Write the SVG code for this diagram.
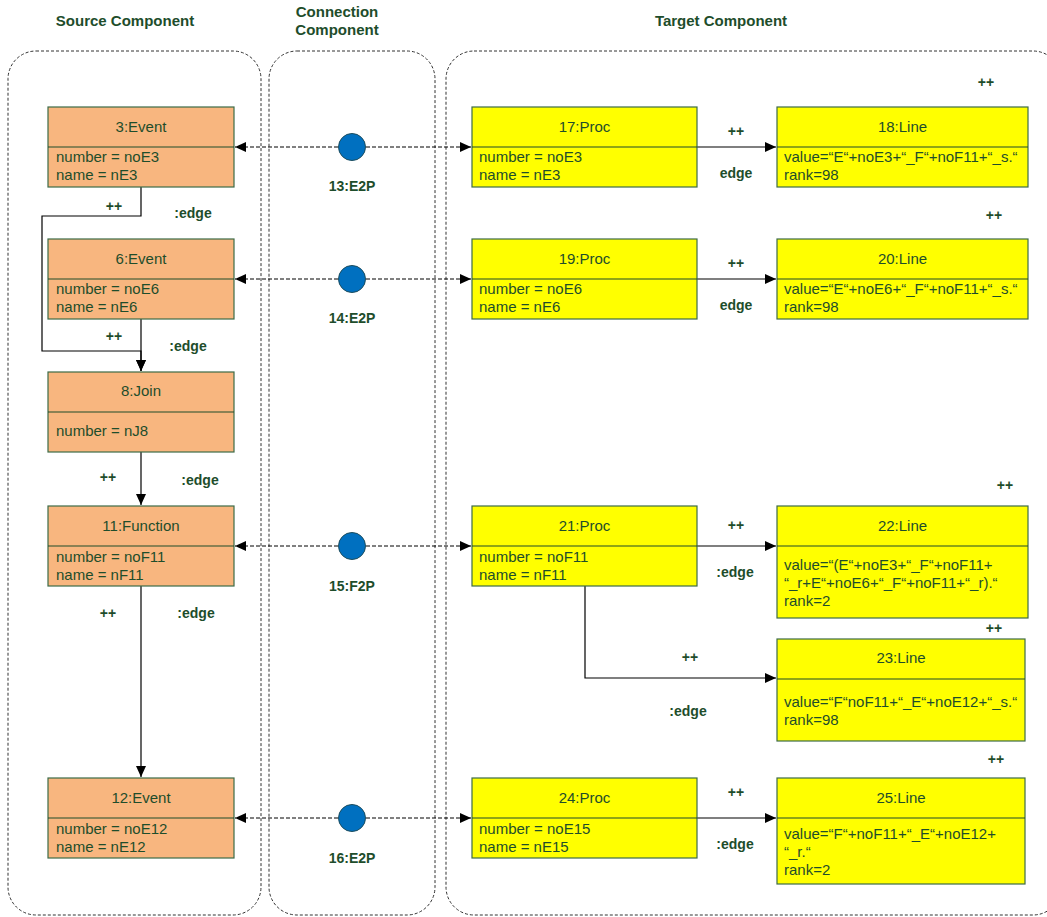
<svg xmlns="http://www.w3.org/2000/svg" width="1047" height="917" viewBox="0 0 1047 917">
<defs>
<marker id="arr" markerUnits="userSpaceOnUse" markerWidth="12" markerHeight="10" refX="11" refY="5" orient="auto"><path d="M0,0 L11,5 L0,10 z" fill="#000"/></marker>
<style>
.cont{fill:none;stroke:#333;stroke-width:1;stroke-dasharray:3,2}
.title{font-family:"Liberation Sans",Arial,sans-serif;font-size:15px;font-weight:bold;fill:#1e4d2b;text-anchor:middle}
.lbl{font-family:"Liberation Sans",Arial,sans-serif;font-size:14px;font-weight:bold;fill:#1e4d2b;text-anchor:middle}
.src{fill:#f8b67f;stroke:#3d6b47;stroke-width:1.2}
.tgt{fill:#ffff00;stroke:#3d6b47;stroke-width:1.2}
.div{stroke:#1e4d2b;stroke-width:1.2}
.hd{font-family:"Liberation Sans",Arial,sans-serif;font-size:15px;fill:#1e4d2b;text-anchor:middle}
.tx{font-family:"Liberation Sans",Arial,sans-serif;font-size:15px;fill:#1e4d2b}
.edge{fill:none;stroke:#000;stroke-width:1.2}
.dash{fill:none;stroke:#000;stroke-width:1;stroke-dasharray:4,2}
.circ{fill:#0070c0;stroke:#1d4d5d;stroke-width:1}
</style>
</defs>
<rect width="1047" height="917" fill="#fff"/>

<g id="containers">
<rect class="cont" x="8" y="51" width="253" height="864" rx="28" ry="28"/>
<rect class="cont" x="269" y="51" width="166" height="864" rx="28" ry="28"/>
<rect class="cont" x="446" y="51" width="615" height="864" rx="28" ry="28"/>
<text class="title" x="125" y="26">Source Component</text>
<text class="title" x="337" y="17">Connection</text>
<text class="title" x="337" y="35">Component</text>
<text class="title" x="721" y="26">Target Component</text>
</g>

<g id="connectors">
<path class="edge" d="M141,187 V216 H42 V351 H141 V371" marker-end="url(#arr)"/>
<path class="edge" d="M141,319 V371" marker-end="url(#arr)"/>
<path class="edge" d="M141,452 V505" marker-end="url(#arr)"/>
<path class="edge" d="M141,586 V777" marker-end="url(#arr)"/>
<path class="edge" d="M697,147 H776" marker-end="url(#arr)"/>
<path class="edge" d="M697,279 H776" marker-end="url(#arr)"/>
<path class="edge" d="M697,546 H776" marker-end="url(#arr)"/>
<path class="edge" d="M585,586 V678 H776" marker-end="url(#arr)"/>
<path class="edge" d="M697,818 H776" marker-end="url(#arr)"/>
<path class="dash" d="M338,147 H235" marker-end="url(#arr)"/>
<path class="dash" d="M366,147 H471" marker-end="url(#arr)"/>
<path class="dash" d="M338,279 H235" marker-end="url(#arr)"/>
<path class="dash" d="M366,279 H471" marker-end="url(#arr)"/>
<path class="dash" d="M338,546 H235" marker-end="url(#arr)"/>
<path class="dash" d="M366,546 H471" marker-end="url(#arr)"/>
<path class="dash" d="M338,818 H235" marker-end="url(#arr)"/>
<path class="dash" d="M366,818 H471" marker-end="url(#arr)"/>
<text class="lbl" x="114" y="211">++</text>
<text class="lbl" x="193" y="218">:edge</text>
<text class="lbl" x="114" y="341">++</text>
<text class="lbl" x="188" y="351">:edge</text>
<text class="lbl" x="108" y="482">++</text>
<text class="lbl" x="200" y="485">:edge</text>
<text class="lbl" x="108" y="618">++</text>
<text class="lbl" x="196" y="618">:edge</text>
<text class="lbl" x="736" y="136">++</text>
<text class="lbl" x="736" y="178">edge</text>
<text class="lbl" x="736" y="268">++</text>
<text class="lbl" x="736" y="310">edge</text>
<text class="lbl" x="736" y="530">++</text>
<text class="lbl" x="735" y="577">:edge</text>
<text class="lbl" x="690" y="662">++</text>
<text class="lbl" x="688" y="716">:edge</text>
<text class="lbl" x="736" y="797">++</text>
<text class="lbl" x="735" y="849">:edge</text>
<text class="lbl" x="986" y="87">++</text>
<text class="lbl" x="994" y="220">++</text>
<text class="lbl" x="1005" y="490">++</text>
<text class="lbl" x="994" y="633">++</text>
<text class="lbl" x="996" y="764">++</text>
</g>

<g id="n3">
<rect class="src" x="48" y="107" width="186" height="80"/>
<line class="div" x1="48" y1="147" x2="234" y2="147"/>
<text class="hd" x="141" y="132">3:Event</text>
<text class="tx" x="56" y="162">number = noE3</text>
<text class="tx" x="56" y="180">name = nE3</text>
</g>
<g id="n6">
<rect class="src" x="48" y="239" width="186" height="80"/>
<line class="div" x1="48" y1="279" x2="234" y2="279"/>
<text class="hd" x="141" y="264">6:Event</text>
<text class="tx" x="56" y="294">number = noE6</text>
<text class="tx" x="56" y="312">name = nE6</text>
</g>
<g id="n8">
<rect class="src" x="48" y="372" width="186" height="80"/>
<line class="div" x1="48" y1="412" x2="234" y2="412"/>
<text class="hd" x="141" y="396">8:Join</text>
<text class="tx" x="56" y="436">number = nJ8</text>
</g>
<g id="n11">
<rect class="src" x="48" y="506" width="186" height="80"/>
<line class="div" x1="48" y1="546" x2="234" y2="546"/>
<text class="hd" x="141" y="531">11:Function</text>
<text class="tx" x="56" y="562">number = noF11</text>
<text class="tx" x="56" y="580">name = nF11</text>
</g>
<g id="n12">
<rect class="src" x="48" y="778" width="186" height="80"/>
<line class="div" x1="48" y1="818" x2="234" y2="818"/>
<text class="hd" x="141" y="803">12:Event</text>
<text class="tx" x="56" y="834">number = noE12</text>
<text class="tx" x="56" y="852">name = nE12</text>
</g>

<g id="n13"><circle class="circ" cx="352" cy="147" r="13.5"/><text class="lbl" x="352" y="191">13:E2P</text></g>
<g id="n14"><circle class="circ" cx="352" cy="279" r="13.5"/><text class="lbl" x="352" y="323">14:E2P</text></g>
<g id="n15"><circle class="circ" cx="352" cy="546" r="13.5"/><text class="lbl" x="352" y="591">15:F2P</text></g>
<g id="n16"><circle class="circ" cx="352" cy="818" r="13.5"/><text class="lbl" x="352" y="863">16:E2P</text></g>

<g id="n17">
<rect class="tgt" x="472" y="107" width="225" height="80"/>
<line class="div" x1="472" y1="147" x2="697" y2="147"/>
<text class="hd" x="584.5" y="132">17:Proc</text>
<text class="tx" x="479" y="162">number = noE3</text>
<text class="tx" x="479" y="180">name = nE3</text>
</g>
<g id="n18">
<rect class="tgt" x="777" y="107" width="251" height="80"/>
<line class="div" x1="777" y1="147" x2="1028" y2="147"/>
<text class="hd" x="902.5" y="132">18:Line</text>
<text class="tx" x="784" y="162">value=“E“+noE3+“_F“+noF11+“_s.“</text>
<text class="tx" x="784" y="180">rank=98</text>
</g>
<g id="n19">
<rect class="tgt" x="472" y="239" width="225" height="80"/>
<line class="div" x1="472" y1="279" x2="697" y2="279"/>
<text class="hd" x="584.5" y="264">19:Proc</text>
<text class="tx" x="479" y="294">number = noE6</text>
<text class="tx" x="479" y="312">name = nE6</text>
</g>
<g id="n20">
<rect class="tgt" x="777" y="239" width="251" height="80"/>
<line class="div" x1="777" y1="279" x2="1028" y2="279"/>
<text class="hd" x="902.5" y="264">20:Line</text>
<text class="tx" x="784" y="294">value=“E“+noE6+“_F“+noF11+“_s.“</text>
<text class="tx" x="784" y="312">rank=98</text>
</g>
<g id="n21">
<rect class="tgt" x="472" y="506" width="225" height="80"/>
<line class="div" x1="472" y1="546" x2="697" y2="546"/>
<text class="hd" x="584.5" y="531">21:Proc</text>
<text class="tx" x="479" y="562">number = noF11</text>
<text class="tx" x="479" y="580">name = nF11</text>
</g>
<g id="n22">
<rect class="tgt" x="777" y="506" width="251" height="112"/>
<line class="div" x1="777" y1="546" x2="1028" y2="546"/>
<text class="hd" x="902.5" y="531">22:Line</text>
<text class="tx" x="784" y="570">value=“(E“+noE3+“_F“+noF11+</text>
<text class="tx" x="784" y="588">“_r+E“+noE6+“_F“+noF11+“_r).“</text>
<text class="tx" x="784" y="606">rank=2</text>
</g>
<g id="n23">
<rect class="tgt" x="777" y="639" width="248" height="102"/>
<line class="div" x1="777" y1="679" x2="1025" y2="679"/>
<text class="hd" x="901" y="663">23:Line</text>
<text class="tx" x="784" y="707">value=“F“noF11+“_E“+noE12+“_s.“</text>
<text class="tx" x="784" y="725">rank=98</text>
</g>
<g id="n24">
<rect class="tgt" x="472" y="778" width="225" height="80"/>
<line class="div" x1="472" y1="818" x2="697" y2="818"/>
<text class="hd" x="584.5" y="803">24:Proc</text>
<text class="tx" x="479" y="834">number = noE15</text>
<text class="tx" x="479" y="852">name = nE15</text>
</g>
<g id="n25">
<rect class="tgt" x="777" y="778" width="248" height="106"/>
<line class="div" x1="777" y1="818" x2="1025" y2="818"/>
<text class="hd" x="901" y="803">25:Line</text>
<text class="tx" x="784" y="839">value=“F“+noF11+“_E“+noE12+</text>
<text class="tx" x="784" y="857">“_r.“</text>
<text class="tx" x="784" y="875">rank=2</text>
</g>
</svg>
